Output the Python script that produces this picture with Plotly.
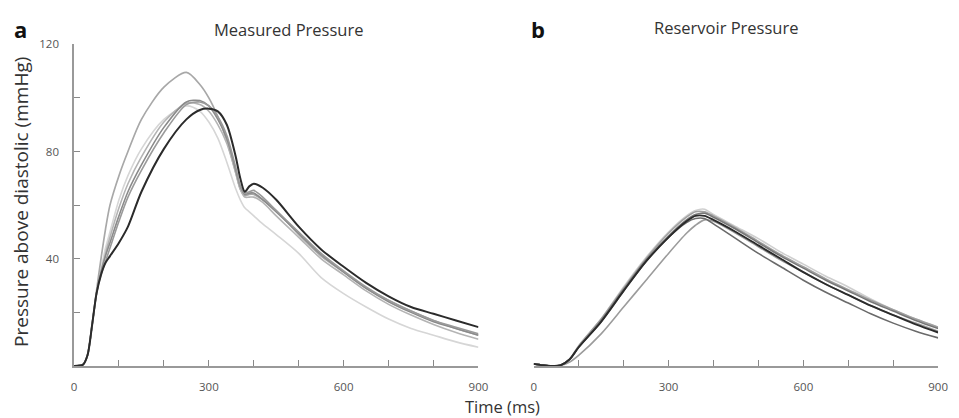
import plotly.graph_objects as go

# ---------------- data ----------------
t_a = [0, 20, 30, 40, 50, 60, 70, 80, 100, 120, 150, 200, 250, 280, 300, 320, 340,
       360, 370, 380, 390, 400, 420, 450, 500, 550, 600, 650, 700, 750, 800, 850, 900]

meas_black = [0, 0.5, 4, 15, 27, 34, 38.5, 41, 46, 52, 65, 81, 92, 95.5, 96, 95, 90,
              78, 70, 65, 67, 68, 66.5, 62, 52, 43.5, 37, 31, 26, 22, 19.5, 17, 14.5]
meas_tall = [0, 0.5, 4, 15, 28, 40, 51, 60, 71, 80, 92, 104, 109.5, 105, 100, 93, 84,
             72, 66, 63.5, 64, 64, 62, 58, 49, 41, 35, 29, 24.5, 20.5, 17, 14, 11.5]
meas_g1 = [0, 0.5, 4, 15, 27, 34, 39, 44, 54, 63, 73, 87, 97.5, 98.5, 97, 93, 86,
           74, 67, 64.5, 65, 65.5, 63, 58, 50, 42, 35.5, 29.5, 24.5, 20.5, 17, 14.5, 12]
meas_g2 = [0, 0.5, 4, 15, 27, 35, 41, 46, 56, 65, 75, 89, 98.5, 99, 97, 92, 85,
           73, 67, 64, 64.5, 64.5, 62, 57.5, 49.5, 41.5, 35, 29, 24, 20, 16.5, 14, 11.5]
meas_g3 = [0, 0.5, 4, 15, 27, 35, 42, 48, 59, 68, 78, 91, 98, 97.5, 95, 90, 83,
           72, 66, 63, 63, 63, 61, 56, 48, 40, 34, 28, 23, 19, 15.5, 12.5, 10]
meas_light = [0, 0.5, 4, 15, 27, 36, 44, 50, 62, 71, 81, 92, 97, 95, 91, 85, 76,
              66, 62, 59, 57.5, 56, 53, 49, 42, 33, 27, 22, 17.5, 14, 11.5, 9, 7]

t_b = [0, 20, 40, 60, 80, 100, 150, 200, 250, 300, 340, 360, 380, 400, 450, 500,
       550, 600, 650, 700, 750, 800, 850, 900]

res_black = [0.8, 0.3, 0, 0.3, 2.5, 7, 16.5, 28, 39, 48, 54, 56, 56, 54.5, 50, 45,
             40, 35, 30.5, 26.5, 22.5, 19, 15.5, 12.5]
res_g1 = [0.8, 0.3, 0, 0.3, 2.5, 7, 17, 28.5, 39.5, 48.5, 54.5, 56.5, 57, 55.5, 51, 46,
          41, 36.5, 32, 28, 24, 20.5, 17, 14]
res_g2 = [0.8, 0.3, 0, 0.3, 2.5, 7.5, 17.5, 29, 40, 49.5, 55.5, 57.5, 57.5, 56, 51.5, 46.5,
          41.5, 37, 32.5, 28.5, 24.5, 21, 17.5, 14.5]
res_upper = [0.8, 0.3, 0, 0.3, 2.5, 7.5, 17.5, 29.5, 40.5, 50, 56, 58, 58.5, 56.5, 52, 47.5,
             42.5, 38, 33.5, 29.5, 25, 21, 17.5, 14.5]
res_lower = [0.8, 0.3, 0, 0.3, 2.5, 7, 16.5, 28, 39, 48, 53.5, 55, 55, 53, 47.5, 42,
             37, 32, 27.5, 23.5, 19.5, 16, 13, 10.5]
res_late = [0.8, 0.3, 0, 0.2, 1.5, 4, 12, 22, 32, 42, 49.5, 52.5, 54.5, 54, 49.5, 44.5,
            39.5, 35, 30.5, 26.5, 22.5, 19, 16, 13]

x_ticks = [0, 100, 200, 300, 400, 500, 600, 700, 800, 900]
x_ticktext = ["0", "", "", "300", "", "", "600", "", "", "900"]
y_ticks = [20, 40, 60, 80, 100, 120]
y_ticktext = ["", "40", "", "80", "", "120"]

# ---------------- figure ----------------
W, H = 959, 418
def px(x): return x / W
def py(y): return 1 - y / H

fig = go.Figure()

meas_series = [
    (meas_light, "#d6d6d6", 1.6),
    (meas_tall, "#a8a8a8", 1.7),
    (meas_g3, "#b4b4b4", 1.6),
    (meas_g2, "#8a8a8a", 1.6),
    (meas_g1, "#9a9a9a", 1.6),
    (meas_black, "#2b2b2b", 2.0),
]
for ys, col, w in meas_series:
    fig.add_trace(go.Scatter(x=t_a, y=ys, mode="lines", xaxis="x", yaxis="y",
                             line=dict(color=col, width=w, shape="spline", smoothing=0.8),
                             showlegend=False, hoverinfo="skip"))

res_series = [
    (res_upper, "#cfcfcf", 1.6),
    (res_late, "#9c9c9c", 1.6),
    (res_g2, "#a0a0a0", 1.6),
    (res_g1, "#777777", 1.6),
    (res_lower, "#6a6a6a", 1.6),
    (res_black, "#2b2b2b", 1.9),
]
for ys, col, w in res_series:
    fig.add_trace(go.Scatter(x=t_b, y=ys, mode="lines", xaxis="x2", yaxis="y2",
                             line=dict(color=col, width=w, shape="spline", smoothing=0.8),
                             showlegend=False, hoverinfo="skip"))

y_bottom, y_top = 365, 37
ydom = [py(y_bottom), py(y_top)]
tickfont = dict(family="Open Sans", size=11.5, color="#555555")

xaxis_common = dict(range=[0, 900], tickvals=x_ticks, ticktext=x_ticktext,
                    ticks="inside", ticklen=6, tickcolor="#888888", tickwidth=1,
                    showline=True, linecolor="#999999", linewidth=1.5,
                    showgrid=False, zeroline=False, tickfont=tickfont,
                    ticklabelstandoff=9)

txt = dict(xref="paper", yref="paper", showarrow=False,
           xanchor="center", yanchor="middle")

fig.update_layout(
    width=W, height=H,
    margin=dict(l=0, r=0, t=0, b=0),
    paper_bgcolor="white", plot_bgcolor="white",
    xaxis=dict(xaxis_common, domain=[px(72), px(482)], anchor="y"),
    yaxis=dict(domain=ydom, range=[0, 120], tickvals=y_ticks, ticktext=y_ticktext,
               ticks="inside", ticklen=6, tickcolor="#888888", tickwidth=1,
               showline=True, linecolor="#999999", linewidth=1.5,
               showgrid=False, zeroline=False, tickfont=tickfont,
               ticklabelstandoff=11, anchor="x"),
    xaxis2=dict(xaxis_common, domain=[px(538), px(948)], anchor="y2"),
    yaxis2=dict(domain=ydom, range=[0, 120], visible=False, anchor="x2"),
    annotations=[
        dict(txt, text="<b>a</b>", x=px(18), y=py(21),
             font=dict(family="Open Sans", size=22, color="#111111")),
        dict(txt, text="<b>b</b>", x=px(542), y=py(21),
             font=dict(family="Open Sans", size=22, color="#111111")),
        dict(txt, text="Measured Pressure", x=px(289), y=py(22),
             font=dict(family="Open Sans", size=16.5, color="#333333")),
        dict(txt, text="Reservoir Pressure", x=px(733), y=py(20),
             font=dict(family="Open Sans", size=16.5, color="#333333")),
        dict(txt, text="Pressure above diastolic (mmHg)", x=px(18), y=py(198),
             textangle=-90, font=dict(family="Open Sans", size=19, color="#333333")),
        dict(txt, text="Time (ms)", x=px(506), y=py(406),
             font=dict(family="Open Sans", size=16.5, color="#333333")),
    ],
)

fig.write_html("out.html", config={"displayModeBar": False},
               post_script="document.body.style.margin='0';document.body.style.overflow='hidden';")
